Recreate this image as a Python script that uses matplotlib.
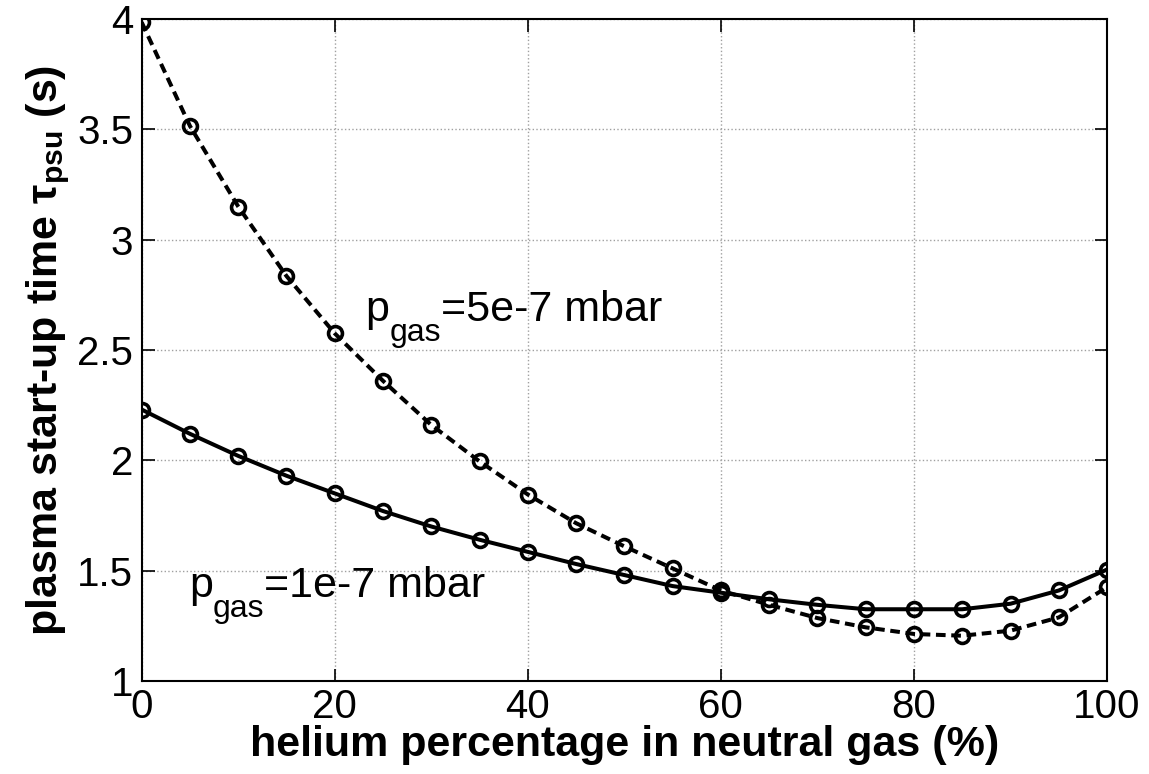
import matplotlib
matplotlib.use('Agg')
import matplotlib.pyplot as plt

plt.rcParams['font.family'] = ['Liberation Sans', 'DejaVu Sans']
plt.rcParams['mathtext.fontset'] = 'custom'
plt.rcParams['mathtext.rm'] = 'Liberation Sans'
plt.rcParams['mathtext.it'] = 'Liberation Sans:italic'
plt.rcParams['mathtext.bf'] = 'Liberation Sans:bold'

# helium percentage
helium = [0, 5, 10, 15, 20, 25, 30, 35, 40, 45, 50,
          55, 60, 65, 70, 75, 80, 85, 90, 95, 100]
# start-up time at p_gas = 1e-7 mbar (solid)
tau_1e7 = [2.23, 2.12, 2.02, 1.93, 1.85, 1.77, 1.70, 1.64, 1.585, 1.53, 1.48,
           1.43, 1.40, 1.37, 1.345, 1.325, 1.325, 1.325, 1.35, 1.41, 1.505]
# start-up time at p_gas = 5e-7 mbar (dashed)
tau_5e7 = [3.985, 3.515, 3.15, 2.835, 2.575, 2.36, 2.16, 1.995, 1.845, 1.715, 1.61,
           1.51, 1.41, 1.345, 1.285, 1.243, 1.213, 1.205, 1.228, 1.288, 1.425]

fig = plt.figure(figsize=(11.49, 7.74), dpi=100)
ax = fig.add_axes([0.1233, 0.1202, 0.8402, 0.8553])

ax.plot(helium, tau_5e7, '--', color='k', lw=2.9, dashes=(2.4, 1.4),
        marker='o', ms=10, mfc='none', mew=2.6)
ax.plot(helium, tau_1e7, '-', color='k', lw=2.9,
        marker='o', ms=10, mfc='none', mew=2.6)

ax.set_xlim(0, 100)
ax.set_ylim(1, 4)
ax.set_xticks([0, 20, 40, 60, 80, 100])
ax.set_yticks([1, 1.5, 2, 2.5, 3, 3.5, 4])
ax.set_yticklabels(['1', '1.5', '2', '2.5', '3', '3.5', '4'])
ax.tick_params(direction='in', length=9, width=1.2, labelsize=29,
               top=True, right=True)
ax.tick_params(axis='x', pad=5)
ax.tick_params(axis='y', pad=6)
ax.grid(True, linestyle=':', color='#a0a0a0', lw=1)
for s in ax.spines.values():
    s.set_linewidth(1.5)

ax.set_xlabel('helium percentage in neutral gas (%)', fontsize=31,
              fontweight='bold', labelpad=-1)
ax.set_ylabel(r'plasma start-up time $\mathbf{\tau_{psu}}$ (s)', fontsize=31,
              fontweight='bold', labelpad=4)


def pgas_label(x, y, rest):
    t1 = ax.text(x, y, 'p', fontsize=31, va='baseline')
    t2 = ax.annotate('gas', xy=(1, y), xycoords=(t1, 'data'),
                     xytext=(0, -14), textcoords='offset points',
                     fontsize=23, va='baseline')
    ax.annotate(rest, xy=(1, y), xycoords=(t2, 'data'),
                xytext=(0, 0), textcoords='offset points',
                fontsize=31, va='baseline')


pgas_label(23.2, 2.63, '=5e-7 mbar')
pgas_label(4.9, 1.38, '=1e-7 mbar')

fig.savefig('out.png', dpi=100)
